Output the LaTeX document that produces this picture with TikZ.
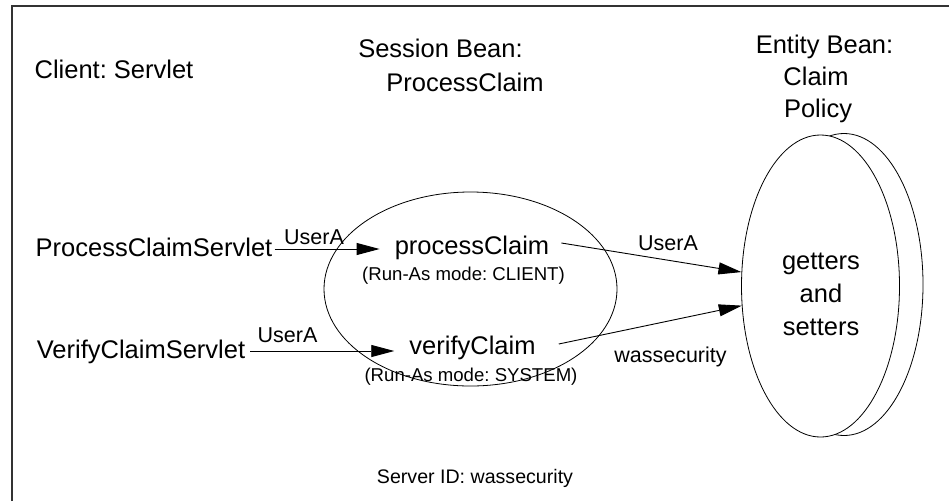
\documentclass[tikz,border=0pt]{standalone}
\usepackage{fontspec}
\setmainfont{Liberation Sans}
\usetikzlibrary{arrows.meta,shapes.geometric}
\frenchspacing

\begin{document}
\begin{tikzpicture}[x=1pt,y=-1pt,
  bigtxt/.style={font=\fontsize{25.5}{30}\selectfont,inner sep=0pt,anchor=base},
  lbltxt/.style={font=\fontsize{21.5}{26}\selectfont,inner sep=0pt,anchor=base},
  modetxt/.style={font=\fontsize{18.6}{22}\selectfont,inner sep=0pt,anchor=base},
  bean/.style={ellipse,draw,line width=0.8pt,inner sep=0pt},
  call/.style={line width=0.9pt,-{Triangle[length=23pt,width=12pt]}}]
\useasboundingbox (0,0) rectangle (949,501);
% --- frame (top and left edges only) ---
\draw[line width=1.1pt,black!80] (12,501) -- (12,6) -- (949,6);
% --- headings ---
\node[bigtxt] (client) at (114,78) {Client: Servlet};
\node[bigtxt] (sbhead) at (440.5,57) {Session Bean:};
\node[bigtxt] (sbname) at (465,91) {ProcessClaim};
\node[bigtxt] (ebhead) at (824.5,53) {Entity Bean:};
\node[bigtxt] (ebname) at (816,85) {Claim};
\node[bigtxt] (ebpol) at (818,117) {Policy};
% --- session bean ---
\node[bean,minimum width=293pt,minimum height=194pt] (sb) at (470.5,289) {};
\node[bigtxt] (pc) at (472,254) {processClaim};
\node[modetxt] (pcmode) at (463.5,280.5) {(Run-As mode: CLIENT)};
\node[bigtxt] (vc) at (472.5,354) {verifyClaim};
\node[modetxt] (vcmode) at (471,381.5) {(Run-As mode: SYSTEM)};
% --- entity bean (two stacked ellipses) ---
\node[bean,fill=white,minimum width=158pt,minimum height=302pt] (entb) at (844,284.5) {};
\node[bean,fill=white,minimum width=158pt,minimum height=302pt] (ent) at (820.5,286) {};
\foreach \w/\yy in {getters/269,and/302,setters/335}
  \node[bigtxt] (gs-\w) at (821,\yy) {\w};
% --- clients ---
\node[bigtxt] (pcs) at (154,256) {ProcessClaimServlet};
\node[bigtxt] (vcs) at (141,358) {VerifyClaimServlet};
% --- calls ---
\draw[call] ([shift={(2pt,7pt)}]pcs.base east) -- ([shift={(-15pt,5pt)}]pc.base west);
\draw[call] ([shift={(5pt,7pt)}]vcs.base east) -- ([shift={(-15pt,3pt)}]vc.base west);
\draw[call] ([shift={(12pt,11pt)}]pc.base east) -- (ent.170.6);
\draw[call] ([shift={(23pt,10pt)}]vc.base east) -- (ent.194.8);
\node[lbltxt] (ua1) at (314,244) {UserA};
\node[lbltxt] (ua2) at (287.5,342) {UserA};
\node[lbltxt] (ua3) at (668,250) {UserA};
\node[lbltxt] (wsid) at (670.5,362) {wassecurity};
% --- server id ---
\node[font=\fontsize{19.6}{24}\selectfont,inner sep=0pt,anchor=base] (srv) at (475,483) {Server ID: wassecurity};
\end{tikzpicture}
\end{document}
